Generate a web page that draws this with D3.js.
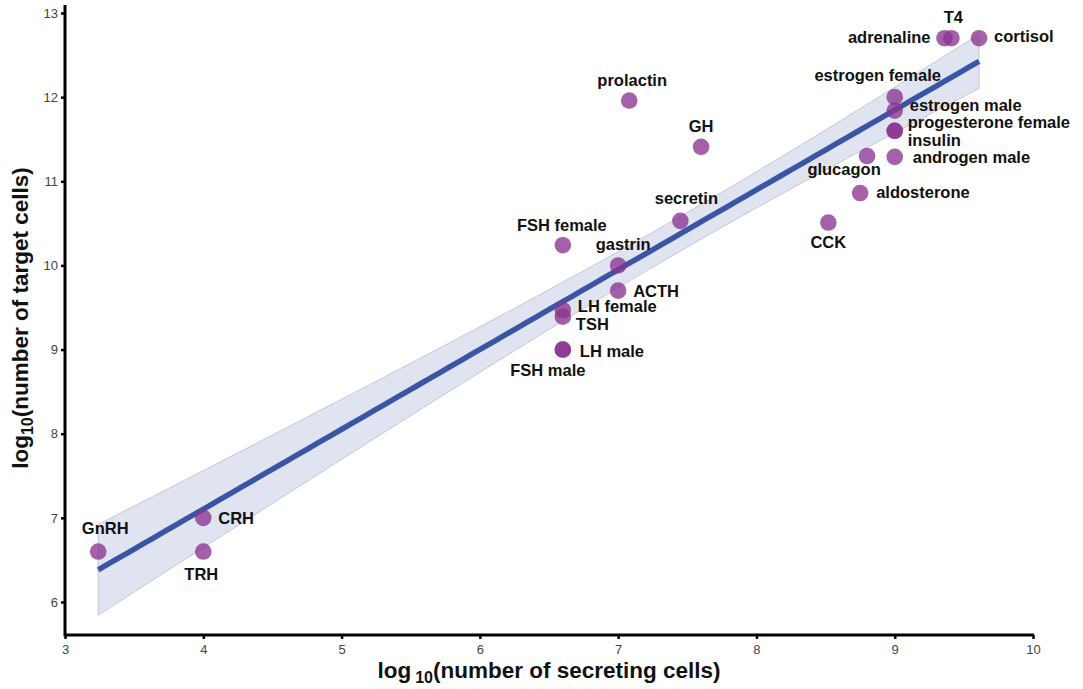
<!DOCTYPE html>
<html>
<head>
<meta charset="utf-8">
<script src="https://cdn.jsdelivr.net/npm/d3@7/dist/d3.min.js"></script>
<style>
  html, body { margin: 0; padding: 0; background: #fff; }
  svg { display: block; }
</style>
</head>
<body>
<svg id="chart" width="1083" height="689"></svg>
<script>
// ---- data ----
const hormones = ["GnRH","CRH","TRH","FSH female","gastrin","ACTH","LH female","TSH","LH male","FSH male",
  "secretin","prolactin","GH","CCK","aldosterone","glucagon","androgen male","insulin","progesterone female",
  "estrogen male","estrogen female","adrenaline","T4","cortisol"];
const secretingLog = [3.24,4.0,4.0,6.6,7.0,7.0,6.6,6.6,6.6,6.6,
  7.45,7.08,7.6,8.52,8.75,8.8,9.0,9.0,9.0,
  9.0,9.0,9.36,9.41,9.61];
const targetLog = [6.6,7.0,6.6,10.24,10.0,9.7,9.47,9.39,9.0,9.0,
  10.53,11.96,11.41,10.51,10.86,11.3,11.29,11.6,11.6,
  11.84,12.0,12.7,12.7,12.7];
const xTicks = [3,4,5,6,7,8,9,10];
const yTicks = [6,7,8,9,10,11,12,13];

// ---- label layout (dx, dy, anchor) ----
const labelLayout = {
  "GnRH": [7,-18,"middle"], "CRH": [15,6,"start"], "TRH": [-2,28,"middle"],
  "FSH female": [-1,-14,"middle"], "gastrin": [5,-15,"middle"], "ACTH": [15,6,"start"],
  "LH female": [15,2,"start"], "TSH": [13,13,"start"], "LH male": [17,7,"start"],
  "FSH male": [-15,26,"middle"], "secretin": [6,-17,"middle"], "prolactin": [3,-15,"middle"],
  "GH": [0,-15,"middle"], "CCK": [0,25,"middle"], "aldosterone": [16,5,"start"],
  "glucagon": [-23,19,"middle"], "androgen male": [18,6,"start"], "insulin": [13,15,"start"],
  "progesterone female": [13,-3,"start"], "estrogen male": [15,0,"start"],
  "estrogen female": [-17,-16,"middle"], "adrenaline": [-14,5,"end"], "T4": [2,-15,"middle"],
  "cortisol": [15,4,"start"]
};

const svg = d3.select("#chart");
const x = d3.scaleLinear().domain([3,10]).range([65,1033]);
const y = d3.scaleLinear().domain([6,13]).range([602,13]);
const y0 = 635, yTop = 5;

// ---- regression (OLS with confidence band) ----
const n = secretingLog.length;
const mx = d3.mean(secretingLog), my = d3.mean(targetLog);
let sxx = 0, sxy = 0;
for (let i = 0; i < n; i++) { sxx += (secretingLog[i]-mx)**2; sxy += (secretingLog[i]-mx)*(targetLog[i]-my); }
const b = sxy / sxx, a = my - b*mx;
let sse = 0;
for (let i = 0; i < n; i++) sse += (targetLog[i] - (a + b*secretingLog[i]))**2;
const s = Math.sqrt(sse/(n-2));
const tq = 1.62;
const xmin = d3.min(secretingLog), xmax = d3.max(secretingLog);
const grid = d3.range(0, 81).map(k => xmin + (xmax-xmin)*k/80);
const fit = grid.map(xv => {
  const yh = a + b*xv;
  const se = s*Math.sqrt(1/n + (xv-mx)**2/sxx);
  return {x: xv, y: yh, lo: yh - tq*se, hi: yh + tq*se};
});

svg.append("path").datum(fit)
  .attr("d", d3.area().x(d => x(d.x)).y0(d => y(d.lo)).y1(d => y(d.hi)))
  .attr("fill", "#e0e3f0").attr("stroke", "#b9bdcc").attr("stroke-width", 0.8);
svg.append("path").datum(fit)
  .attr("d", d3.line().x(d => x(d.x)).y(d => y(d.y)))
  .attr("fill", "none").attr("stroke", "#3a55a6").attr("stroke-width", 5.5);

// ---- points ----
const idx = d3.range(n);
svg.append("g").selectAll("circle").data(idx).join("circle")
  .attr("cx", i => x(secretingLog[i])).attr("cy", i => y(targetLog[i])).attr("r", 8.3)
  .attr("fill", "#8a3390").attr("fill-opacity", 0.78);

// ---- labels ----
svg.append("g").selectAll("text").data(idx).join("text")
  .attr("x", i => x(secretingLog[i]) + labelLayout[hormones[i]][0])
  .attr("y", i => y(targetLog[i]) + labelLayout[hormones[i]][1])
  .attr("text-anchor", i => labelLayout[hormones[i]][2])
  .attr("font-family", "Liberation Sans, Arial, sans-serif")
  .attr("font-weight", "bold").attr("font-size", 16.5).attr("fill", "#111")
  .text(i => hormones[i]);

// ---- axes ----
const xAxis = svg.append("g").attr("transform", `translate(0,${y0})`)
  .call(d3.axisBottom(x).tickValues(xTicks).tickSize(4).tickFormat(d3.format("d")));
const yAxis = svg.append("g").attr("transform", `translate(65,0)`)
  .call(d3.axisLeft(y).tickValues(yTicks).tickSize(4).tickFormat(d3.format("d")));
[xAxis, yAxis].forEach(g => {
  g.select(".domain").remove();
  g.selectAll(".tick line").attr("stroke", "#000").attr("stroke-width", 2.5);
  g.selectAll(".tick text").attr("fill", "#444").attr("font-size", 13)
    .attr("font-family", "Liberation Sans Narrow, Liberation Sans, Arial, sans-serif");
});
xAxis.selectAll(".tick text").attr("dy", "0.95em");
svg.append("line").attr("x1", 65).attr("x2", 1034).attr("y1", y0).attr("y2", y0)
  .attr("stroke", "#000").attr("stroke-width", 3);
svg.append("line").attr("x1", 65).attr("x2", 65).attr("y1", yTop).attr("y2", y0+1.5)
  .attr("stroke", "#000").attr("stroke-width", 3);

// ---- axis titles ----
const xt = svg.append("text").attr("x", 549).attr("y", 678).attr("text-anchor", "middle")
  .attr("font-family", "Liberation Sans, Arial, sans-serif").attr("font-weight", "bold")
  .attr("font-size", 22.5).attr("fill", "#111");
xt.append("tspan").text("log");
xt.append("tspan").attr("font-size", 16).attr("dy", 5).attr("dx", 4).text("10");
xt.append("tspan").attr("dy", -5).text("(number of secreting cells)");

const yt = svg.append("text").attr("transform", "translate(28,318) rotate(-90)")
  .attr("text-anchor", "middle")
  .attr("font-family", "Liberation Sans, Arial, sans-serif").attr("font-weight", "bold")
  .attr("font-size", 22.5).attr("fill", "#111");
yt.append("tspan").text("log");
yt.append("tspan").attr("font-size", 16).attr("dy", 5).text("10");
yt.append("tspan").attr("dy", -5).text("(number of target cells)");
</script>
</body>
</html>
